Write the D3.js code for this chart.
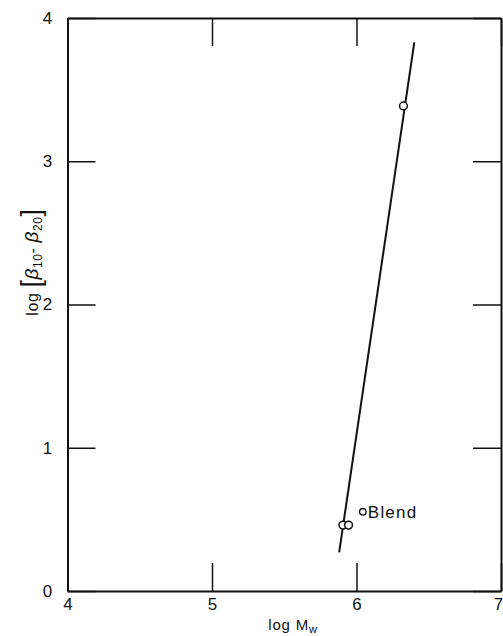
<!DOCTYPE html>
<html>
<head>
<meta charset="utf-8">
<script src="https://cdn.jsdelivr.net/npm/d3@7"></script>
<style>
  body { margin: 0; background: #fff; }
  svg { display: block; }
  text { font-family: "Liberation Sans", Arial, sans-serif; fill: #111; }
</style>
</head>
<body>
<svg id="chart" width="503" height="636"></svg>
<script>
/*
Data: log Mw vs log[beta10 - beta20]
 */
var pointX = [5.906, 5.945, 6.325];
var pointY = [0.46, 0.46, 3.386];

var blendX = [6.044];
var blendY = [0.553];
var blendLabel = "Blend";

// straight fitted line, its two ends
var fitX = [5.88, 6.40];
var fitY = [0.27, 3.83];

var xTicks = [4, 5, 6, 7];
var yTicks = [0, 1, 2, 3, 4];

/*
Static constants
 */
const width = 503;
const height = 636;
const margin = {top: 18, right: 2, bottom: 45, left: 67.5};
const tickLen = 28;

var svg = d3.select("#chart");

var x = d3.scaleLinear()
    .domain([4, 7])
    .range([margin.left, width - margin.right]);

var y = d3.scaleLinear()
    .domain([0, 4])
    .range([height - margin.bottom, margin.top]);

//inward ticks on all four sides, labels only left & bottom
var bottomAxis = d3.axisBottom(x)
    .tickValues(xTicks)
    .tickSizeInner(-tickLen)
    .tickSizeOuter(0)
    .tickFormat(d3.format("d"));

var leftAxis = d3.axisLeft(y)
    .tickValues(yTicks)
    .tickSizeInner(-tickLen)
    .tickSizeOuter(0)
    .tickFormat(d3.format("d"));

var topAxis = d3.axisTop(x)
    .tickValues(xTicks)
    .tickSizeInner(-tickLen)
    .tickSizeOuter(0)
    .tickFormat("");

var rightAxis = d3.axisRight(y)
    .tickValues(yTicks)
    .tickSizeInner(-tickLen)
    .tickSizeOuter(0)
    .tickFormat("");

function styleAxis(g) {
    g.select(".domain").attr("stroke", "#111").attr("stroke-width", 2);
    g.selectAll(".tick line").attr("stroke", "#111").attr("stroke-width", 1.5);
    g.selectAll(".tick text")
        .attr("font-size", 17)
        .attr("fill", "#111");
}

svg.append("g")
    .attr("transform", "translate(0," + y(0) + ")")
    .call(bottomAxis)
    .call(styleAxis)
    .call(function(g) {
        g.selectAll(".tick text").attr("y", 7)
            .attr("dx", function(d) { return d === 7 ? -3 : 0; });
    });

svg.append("g")
    .attr("transform", "translate(" + x(4) + ",0)")
    .call(leftAxis)
    .call(styleAxis)
    .call(function(g) {
        g.selectAll(".tick text").attr("x", -20).attr("text-anchor", "middle");
    });

svg.append("g")
    .attr("transform", "translate(0," + y(4) + ")")
    .call(topAxis)
    .call(styleAxis);

svg.append("g")
    .attr("transform", "translate(" + x(7) + ",0)")
    .call(rightAxis)
    .call(styleAxis);

//Fitted line
var line = d3.line()
    .x(function(d) { return x(d[0]); })
    .y(function(d) { return y(d[1]); });

svg.append("path")
    .datum(d3.zip(fitX, fitY))
    .attr("d", line)
    .attr("fill", "none")
    .attr("stroke", "#111")
    .attr("stroke-width", 2);

//Data points
svg.selectAll(".pt")
    .data(d3.zip(pointX, pointY))
    .join("circle")
    .attr("class", "pt")
    .attr("cx", function(d) { return x(d[0]); })
    .attr("cy", function(d) { return y(d[1]); })
    .attr("r", 3.9)
    .attr("fill", "#fff")
    .attr("stroke", "#111")
    .attr("stroke-width", 1.5);

svg.selectAll(".blend")
    .data(d3.zip(blendX, blendY))
    .join("circle")
    .attr("class", "blend")
    .attr("cx", function(d) { return x(d[0]); })
    .attr("cy", function(d) { return y(d[1]); })
    .attr("r", 3.3)
    .attr("fill", "#fff")
    .attr("stroke", "#111")
    .attr("stroke-width", 1.3);

svg.append("text")
    .attr("x", x(blendX[0]) + 5)
    .attr("y", y(blendY[0]))
    .attr("dy", "0.36em")
    .attr("font-size", 17)
    .attr("letter-spacing", 1.2)
    .text(blendLabel);

//Axis titles
var xt = svg.append("text")
    .attr("x", 293)
    .attr("y", 630)
    .attr("text-anchor", "middle")
    .attr("font-size", 15)
    .attr("letter-spacing", 0.8);
xt.append("tspan").text("log M");
xt.append("tspan").attr("font-size", 11).attr("dy", 3).text("w");

var yt = svg.append("text")
    .attr("transform", "translate(38," + 262 + ") rotate(-90)")
    .attr("text-anchor", "middle")
    .attr("font-size", 16)
    .attr("letter-spacing", 0.6);
yt.append("tspan").text("log ");
yt.append("tspan").attr("font-size", 27).attr("dy", 2).text("[");
yt.append("tspan").attr("font-style", "italic").attr("font-size", 19).attr("dy", -2).text("β");
yt.append("tspan").attr("font-size", 12).attr("dy", 4).text("10");
yt.append("tspan").attr("dy", -4).text("- ");
yt.append("tspan").attr("font-style", "italic").attr("font-size", 19).text("β");
yt.append("tspan").attr("font-size", 12).attr("dy", 4).text("20");
yt.append("tspan").attr("font-size", 27).attr("dy", -2).text("]");
</script>
</body>
</html>
